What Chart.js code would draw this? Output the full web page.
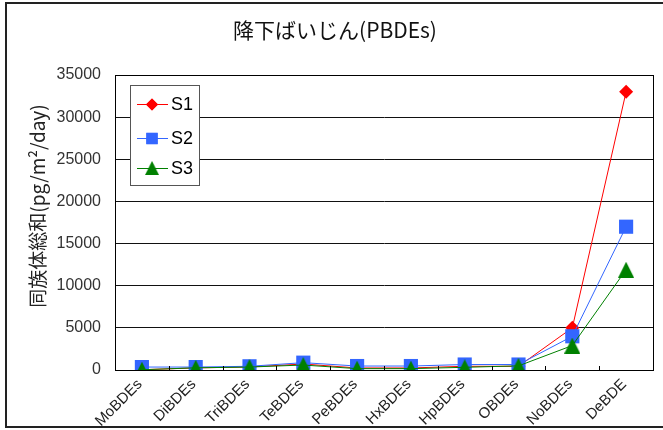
<!DOCTYPE html>
<html>
<head>
<meta charset="utf-8">
<script src="https://cdn.jsdelivr.net/npm/chart.js@4.4.1/dist/chart.umd.min.js"></script>
<style>
  html, body { margin: 0; padding: 0; background: #fff; }
  #wrap { width: 663px; height: 430px; position: relative; }
</style>
</head>
<body>
<div id="wrap"><canvas id="chart"></canvas></div>
<script>
const categories = ['MoBDEs', 'DiBDEs', 'TriBDEs', 'TeBDEs', 'PeBDEs', 'HxBDEs', 'HpBDEs', 'OBDEs', 'NoBDEs', 'DeBDE'];
const seriesNames = ['S1', 'S2', 'S3'];
const s1Values = [30, 250, 360, 710, 240, 240, 440, 440, 5000, 33000];
const s2Values = [350, 350, 440, 870, 470, 470, 650, 650, 4000, 17000];
const s3Values = [30, 260, 350, 590, 160, 160, 320, 490, 2900, 11900];
const yMax = 35000;
const yStep = 5000;

const jpFont = '"Noto Sans CJK JP", "Liberation Sans", sans-serif';
const latinFont = '"Liberation Sans", Arial, sans-serif';

// triangle marker centred on its bounding box
function triangleMarker(size, color) {
    const c = document.createElement('canvas');
    c.width = size;
    c.height = size;
    const g = c.getContext('2d');
    g.fillStyle = color;
    g.beginPath();
    g.moveTo(size / 2, 0);
    g.lineTo(size, size);
    g.lineTo(0, size);
    g.closePath();
    g.fill();
    return c;
}

const greenTriangle = triangleMarker(16, '#008000');

// frame, plot border, slanted category labels, inner x ticks, axis title and boxed legend
const decorations = {
    id: 'decorations',
    afterDraw(chart) {
        const ctx = chart.ctx;
        const area = chart.chartArea;
        const x = chart.scales.x;
        ctx.save();
        ctx.strokeStyle = '#000';
        ctx.lineWidth = 1;
        ctx.strokeRect(Math.round(area.left) + 0.5, Math.round(area.top) + 0.5,
            Math.round(area.right - area.left), Math.round(area.bottom - area.top));
        for (let i = 1; i < categories.length; i++) {
            const px = Math.round((x.getPixelForValue(i - 1) + x.getPixelForValue(i)) / 2) + 0.5;
            ctx.beginPath();
            ctx.moveTo(px, area.bottom);
            ctx.lineTo(px, area.bottom - 4);
            ctx.stroke();
        }

        ctx.fillStyle = '#222';
        ctx.font = '15px ' + latinFont;
        ctx.textAlign = 'right';
        ctx.textBaseline = 'middle';
        categories.forEach((name, i) => {
            const px = x.getPixelForValue(i);
            ctx.save();
            ctx.translate(px - 2, area.bottom + 12);
            ctx.rotate(-Math.PI / 4);
            ctx.fillText(name, 0, 0);
            ctx.restore();
        });

        // y axis title
        ctx.save();
        ctx.translate(38, 206);
        ctx.rotate(-Math.PI / 2);
        ctx.textAlign = 'center';
        ctx.font = '19px ' + jpFont;
        ctx.fillText('同族体総和(pg/m²/day)', 0, 0);
        ctx.restore();

        ctx.lineWidth = 2;
        ctx.strokeStyle = '#222';
        ctx.strokeRect(6, 3, 720, 424);

        // legend box
        const lx = 130.5, ly = 85.5, lw = 69, lh = 100;
        ctx.fillStyle = '#fff';
        ctx.fillRect(lx, ly, lw, lh);
        ctx.lineWidth = 1;
        ctx.strokeStyle = '#555';
        ctx.strokeRect(lx, ly, lw, lh);
        const rows = [104, 138, 168];
        chart.data.datasets.forEach((ds, i) => {
            const ry = rows[i];
            ctx.strokeStyle = ds.borderColor;
            ctx.lineWidth = 1;
            ctx.beginPath();
            ctx.moveTo(137, ry + 0.5);
            ctx.lineTo(168, ry + 0.5);
            ctx.stroke();
            const style = ds.pointStyle;
            if (typeof style === 'string') {
                ctx.fillStyle = ds.pointBackgroundColor;
                Chart.helpers.drawPoint(ctx, {
                    pointStyle: style,
                    radius: ds.legendRadius,
                    rotation: 0,
                    borderWidth: 0
                }, 152, ry + 0.5);
                ctx.fill();
            } else {
                ctx.drawImage(style, 152 - style.width / 2 + 1, ry - style.height / 2 + 1, style.width - 2, style.height - 2);
            }
            ctx.fillStyle = '#000';
            ctx.font = '18px ' + latinFont;
            ctx.textBaseline = 'middle';
            ctx.textAlign = 'left';
            ctx.fillText(seriesNames[i], 171, ry + 1);
        });

        // chart title
        ctx.fillStyle = '#111';
        ctx.font = '21px ' + jpFont;
        ctx.textAlign = 'center';
        ctx.textBaseline = 'middle';
        ctx.fillText('降下ばいじん(PBDEs)', 335, 30);
        ctx.restore();
    }
};

new Chart(document.getElementById('chart'), {
    type: 'line',
    data: {
        labels: categories,
        datasets: [
            {
                label: seriesNames[0],
                data: s1Values,
                borderColor: '#ff0000',
                backgroundColor: '#ff0000',
                pointBackgroundColor: '#ff0000',
                pointBorderWidth: 0,
                borderWidth: 1,
                pointStyle: 'rectRot',
                pointRadius: 7,
                legendRadius: 6,
                order: 2
            },
            {
                label: seriesNames[1],
                data: s2Values,
                borderColor: '#3366ff',
                backgroundColor: '#3366ff',
                pointBackgroundColor: '#3366ff',
                pointBorderWidth: 0,
                borderWidth: 1,
                pointStyle: 'rect',
                pointRadius: 10,
                legendRadius: 8,
                order: 1
            },
            {
                label: seriesNames[2],
                data: s3Values,
                borderColor: '#008000',
                backgroundColor: '#008000',
                pointBackgroundColor: '#008000',
                pointBorderWidth: 0,
                borderWidth: 1,
                pointStyle: greenTriangle,
                pointRadius: 8,
                order: 0
            }
        ]
    },
    options: {
        responsive: true,
        maintainAspectRatio: false,
        animation: false,
        layout: { padding: { left: 0, right: 6, top: 75, bottom: 0 } },
        plugins: {
            legend: { display: false },
            tooltip: { enabled: false },
            title: { display: false }
        },
        scales: {
            x: {
                offset: true,
                grid: { display: false },
                border: { display: true, color: '#000' },
                ticks: { display: false },
                afterFit: (s) => { s.height = 60; }
            },
            y: {
                min: 0,
                max: yMax,
                grid: { color: '#111', drawTicks: false },
                border: { display: true, color: '#000' },
                ticks: {
                    stepSize: yStep,
                    color: '#333',
                    font: { family: latinFont, size: 16 },
                    padding: 14,
                    callback: (v) => String(v)
                },
                afterFit: (s) => { s.width = 115; }
            }
        }
    },
    plugins: [decorations]
});
</script>
</body>
</html>
